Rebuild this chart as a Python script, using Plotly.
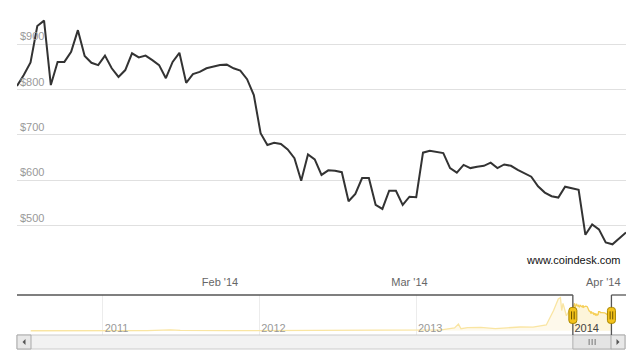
import plotly.graph_objects as go
import pandas as pd

W, H = 637, 357

# ---------------- data ----------------
start_date = "2014-01-02"
prices = [808, 832, 860, 940, 952, 810, 861, 861, 883, 931,
          874, 859, 854, 875, 847, 828, 843, 880, 871, 875,
          865, 854, 825, 861, 881, 815, 834, 839, 847, 850,
          854, 855, 847, 842, 823, 788, 704, 678, 683, 680,
          668, 649, 599, 657, 646, 612, 622, 621, 618, 554,
          570, 605, 605, 546, 537, 577, 577, 546, 564, 563,
          661, 665, 663, 660, 627, 617, 634, 627, 630, 632,
          639, 627, 635, 632, 623, 616, 608, 587, 573, 565,
          562, 586, 582, 579, 480, 503, 492, 463, 459, 472, 485]
dates = [d.strftime("%Y-%m-%d") for d in pd.date_range(start_date, periods=len(prices), freq="D")]

hist_dates = ["2010-07-17", "2010-10-01", "2010-11-06", "2011-01-01", "2011-02-10",
              "2011-04-15", "2011-06-08", "2011-07-01", "2011-10-20", "2011-12-31",
              "2012-04-01", "2012-08-16", "2012-09-01", "2012-12-31", "2013-02-01",
              "2013-03-01", "2013-04-01", "2013-04-10", "2013-04-16", "2013-05-01",
              "2013-06-01", "2013-07-05", "2013-08-01", "2013-09-01", "2013-10-01",
              "2013-11-01", "2013-11-18", "2013-11-29", "2013-12-04", "2013-12-07",
              "2013-12-10", "2013-12-18", "2013-12-24", "2014-01-01"]
hist_prices = [0.09, 0.06, 0.4, 0.3, 1.0,
               1.0, 30, 15, 2.5, 4.7,
               5, 13, 10, 13, 20,
               33, 100, 230, 70, 110,
               120, 70, 100, 130, 125,
               200, 700, 1100, 1150, 700,
               950, 520, 680, 770]

y_ticks = [500, 600, 700, 800, 900]
y_tick_labels = ["$500", "$600", "$700", "$800", "$900"]
x_tick_dates = ["2014-02-01", "2014-03-01", "2014-04-01"]
x_tick_labels = ["Feb '14", "Mar '14", "Apr '14"]
nav_tick_dates = ["2011-01-01", "2012-01-01", "2013-01-01", "2014-01-01"]
nav_tick_labels = ["2011", "2012", "2013", "2014"]
credit_text = "www.coindesk.com"

# ---------------- geometry helpers ----------------
def px_x(p):
    return p / W

def px_y(p):
    return 1 - p / H

PL, PR = 17, 626          # plot left/right (px)
MAIN_T, MAIN_B = 8, 270   # main plot top/bottom
NAV_T, NAV_B = 295, 335   # navigator top/bottom
SB_T, SB_B = 335, 349     # scrollbar

nav_range = ["2010-06-15", "2014-05-06"]

fig = go.Figure()

# main series
fig.add_trace(go.Scatter(
    x=dates, y=prices, mode="lines",
    line=dict(color="#333333", width=2),
    xaxis="x", yaxis="y", hoverinfo="skip"))

# navigator series
fig.add_trace(go.Scatter(
    x=hist_dates + dates, y=hist_prices + prices, mode="lines",
    line=dict(color="#F5CF57", width=1.3),
    fill="tozeroy", fillcolor="rgba(250,226,150,0.35)",
    xaxis="x2", yaxis="y2", hoverinfo="skip"))

shapes = []
font = "Liberation Sans, Arial, sans-serif"

# mask outside selection
shapes.append(dict(type="rect", xref="x2", yref="y2 domain", x0=nav_range[0], x1=dates[0],
                   y0=0, y1=1, fillcolor="rgba(255,255,255,0.45)", line=dict(width=0), layer="above"))
shapes.append(dict(type="rect", xref="x2", yref="y2 domain", x0=dates[-1], x1=nav_range[1],
                   y0=0, y1=1, fillcolor="rgba(255,255,255,0.45)", line=dict(width=0), layer="above"))

# scrollbar track
shapes.append(dict(type="rect", xref="paper", yref="paper",
                   x0=px_x(PL), x1=px_x(PR - 1), y0=px_y(SB_B), y1=px_y(SB_T),
                   fillcolor="#F2F2F2", line=dict(color="#CCCCCC", width=1), layer="above"))
# scrollbar thumb
shapes.append(dict(type="rect", xref="x2", yref="paper",
                   x0=dates[0], x1=dates[-1], y0=px_y(SB_B), y1=px_y(SB_T),
                   fillcolor="#E4E4E4", line=dict(color="#B0B0B0", width=1), layer="above"))
mid_date = pd.Timestamp(dates[0]) + (pd.Timestamp(dates[-1]) - pd.Timestamp(dates[0])) / 2
for dx in (-3, 0, 3):
    shapes.append(dict(type="line", xref="x2", yref="paper", xsizemode="pixel", xanchor=mid_date,
                       x0=dx, x1=dx, y0=px_y(345), y1=px_y(339),
                       line=dict(color="#777777", width=1), layer="above"))
# buttons
for bx0, bx1 in ((PL, PL + 14), (PR - 15, PR - 1)):
    shapes.append(dict(type="rect", xref="paper", yref="paper",
                       x0=px_x(bx0), x1=px_x(bx1), y0=px_y(SB_B), y1=px_y(SB_T),
                       fillcolor="#E8E8E8", line=dict(color="#AAAAAA", width=1), layer="above"))
# arrows
cx, cy = PL + 7, (SB_T + SB_B) / 2
shapes.append(dict(type="path", xref="paper", yref="paper",
                   path=f"M {px_x(cx-1.5)} {px_y(cy)} L {px_x(cx+1.5)} {px_y(cy-3)} L {px_x(cx+1.5)} {px_y(cy+3)} Z",
                   fillcolor="#555555", line=dict(width=0), layer="above"))
cx = PR - 8
shapes.append(dict(type="path", xref="paper", yref="paper",
                   path=f"M {px_x(cx+1.5)} {px_y(cy)} L {px_x(cx-1.5)} {px_y(cy-3)} L {px_x(cx-1.5)} {px_y(cy+3)} Z",
                   fillcolor="#555555", line=dict(width=0), layer="above"))

# navigator outline
oc = dict(color="#555555", width=1.3)
shapes.append(dict(type="line", xref="x2", yref="y2 domain", x0=nav_range[0], x1=dates[0], y0=1, y1=1, line=oc, layer="above"))
shapes.append(dict(type="line", xref="x2", yref="y2 domain", x0=dates[-1], x1=nav_range[1], y0=1, y1=1, line=oc, layer="above"))
shapes.append(dict(type="line", xref="x2", yref="y2 domain", x0=dates[0], x1=dates[0], y0=0, y1=1, line=oc, layer="above"))
shapes.append(dict(type="line", xref="x2", yref="y2 domain", x0=dates[-1], x1=dates[-1], y0=0, y1=1, line=oc, layer="above"))

# handles
for d in (dates[0], dates[-1]):
    shapes.append(dict(type="path", xref="x2", yref="y2 domain", xsizemode="pixel", ysizemode="pixel",
                       xanchor=d, yanchor=0.49,
                       path="M -4 -5 Q -4 -8 -1 -8 L 1 -8 Q 4 -8 4 -5 L 4 5 Q 4 8 1 8 L -1 8 Q -4 8 -4 5 Z",
                       fillcolor="#F3C21B", line=dict(color="#A88600", width=1), layer="above"))
    for dx in (-1.3, 1.3):
        shapes.append(dict(type="line", xref="x2", yref="y2 domain", xsizemode="pixel", ysizemode="pixel",
                           xanchor=d, yanchor=0.49, x0=dx, x1=dx, y0=-4, y1=4,
                           line=dict(color="#6B5300", width=1), layer="above"))

annotations = [
    dict(text=x_tick_labels[-1], xref="x", yref="paper", x=x_tick_dates[-1], y=px_y(282),
         xanchor="right", yanchor="middle", xshift=4, showarrow=False,
         font=dict(family=font, size=11, color="#666666")),
    dict(text=credit_text, xref="paper", yref="paper", x=px_x(623), y=px_y(260),
         xanchor="right", yanchor="middle", showarrow=False,
         font=dict(family=font, size=11, color="#111111")),
]

fig.update_layout(
    width=W, height=H,
    margin=dict(l=0, r=0, t=0, b=0),
    paper_bgcolor="white", plot_bgcolor="white",
    showlegend=False,
    font=dict(family=font, size=11),
    xaxis=dict(domain=[px_x(PL), px_x(PR)], type="date",
               range=[dates[0], dates[-1]],
               tickvals=x_tick_dates[:-1], ticktext=x_tick_labels[:-1],
               showgrid=False, zeroline=False, showline=False, ticks="",
               tickfont=dict(size=11, color="#666666"), ticklabelstandoff=4,
               anchor="y"),
    yaxis=dict(domain=[px_y(MAIN_B), px_y(MAIN_T)], range=[402.4, 979.8],
               tickmode="array", tickvals=y_ticks, ticktext=y_tick_labels, ticks="",
               showgrid=True, gridcolor="#E0E0E0", gridwidth=1,
               zeroline=False, showline=False,
               ticklabelposition="inside top",
               tickfont=dict(size=11, color="#999999"),
               anchor="x"),
    xaxis2=dict(domain=[px_x(PL), px_x(PR)], type="date", range=nav_range,
                tickvals=nav_tick_dates, ticktext=nav_tick_labels,
                showgrid=True, gridcolor="#DDDDDD", gridwidth=1,
                zeroline=False, showline=False, ticks="",
                ticklabelposition="inside right", ticklabelstandoff=-5, ticklabelshift=2,
                tickfont=dict(size=11, color="#444444"),
                anchor="y2"),
    yaxis2=dict(domain=[px_y(NAV_B), px_y(NAV_T)], range=[-148, 1240],
                showticklabels=False, showgrid=False, zeroline=False, showline=False,
                anchor="x2"),
    shapes=shapes,
    annotations=annotations,
)

fig.write_html("out.html")
